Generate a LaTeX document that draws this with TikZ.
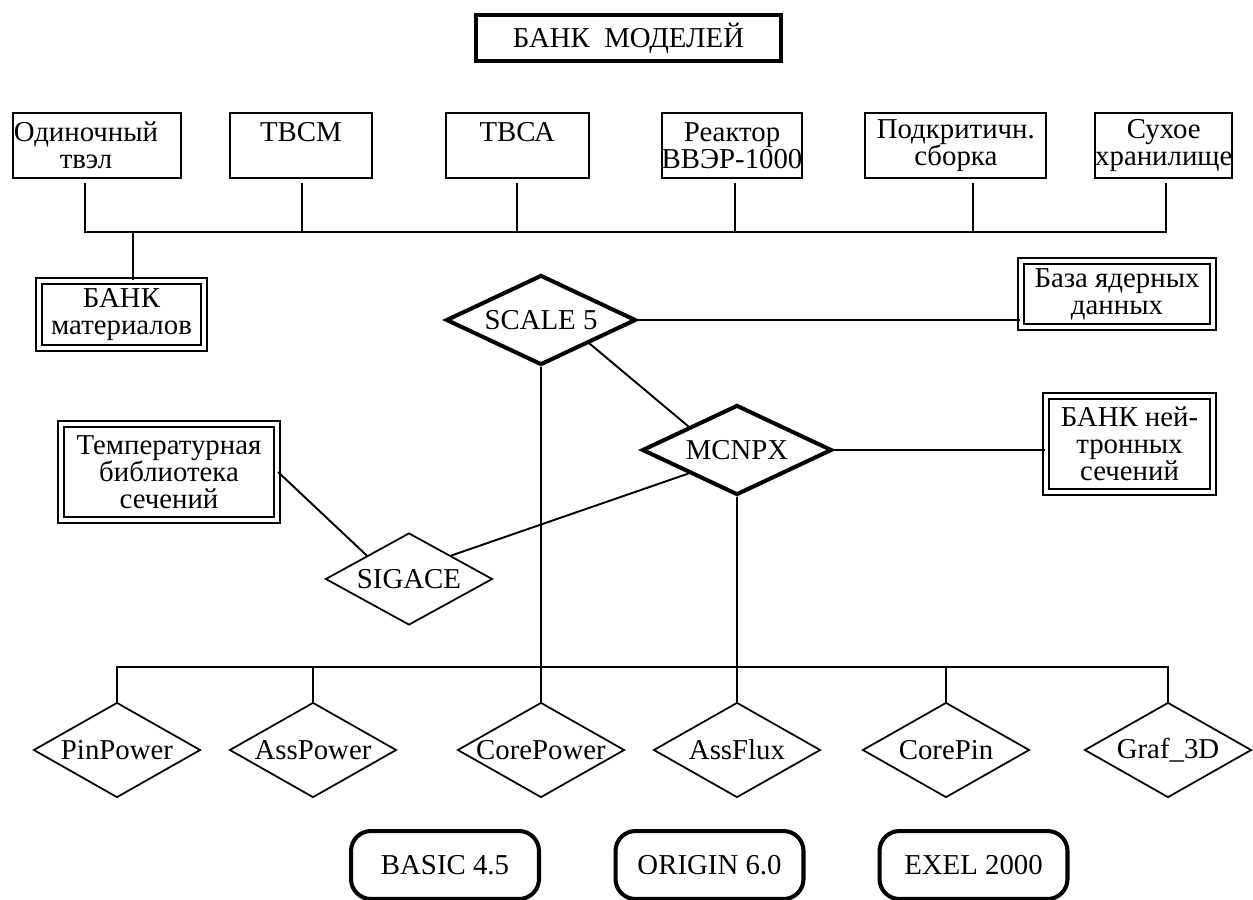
\documentclass[tikz,border=0pt]{standalone}
\usepackage{fontspec}
\setmainfont{Liberation Serif}
\usetikzlibrary{shapes.geometric,positioning}
\tikzset{%
  textFont/.style={%
    font=\fontsize{16.4}{15.4}\selectfont
  },
  titleBox/.style={%
    rectangle,
    draw,
    line width=2.3pt,
    minimum width=6.10cm,
    minimum height=0.92cm,
    textFont
  },
  modelBox/.style={%
    rectangle,
    draw,
    line width=1.1pt,
    minimum height=1.30cm,
    inner sep=0pt,
    align=center,
    textFont
  },
  bankBox/.style={%
    rectangle,
    draw,
    double,
    line width=1.2pt,
    double distance=2.2pt,
    inner sep=0pt,
    align=center,
    textFont
  },
  codeDiamond/.style={%
    diamond,
    draw,
    line width=2.3pt,
    inner sep=0pt,
    minimum width=3.8cm,
    minimum height=1.8cm,
    textFont
  },
  toolDiamond/.style={%
    diamond,
    draw,
    line width=1pt,
    inner sep=0pt,
    minimum width=3.34cm,
    minimum height=1.9cm,
    textFont
  },
  progBox/.style={%
    rectangle,
    rounded corners=0.4cm,
    draw,
    line width=2.3pt,
    minimum width=3.76cm,
    minimum height=1.36cm,
    textFont
  },
  linkLine/.style={%
    line width=1.1pt
  }
}
\newcommand{\dtext}[1]{\makebox[0pt]{#1}}

\begin{document}
\begin{tikzpicture}[x=0.02cm, y=-0.02cm]
  \useasboundingbox[fill=white] (0,0) rectangle (1253,899);

  % title
  \node[titleBox] (bank) at (628.5,38) {БАНК\ \ МОДЕЛЕЙ};

  % models
  \node[modelBox, minimum width=3.36cm] (tvel) at (97,145.5) {Одиночный\hspace*{0.44cm}\\твэл\hspace*{0.44cm}};
  \node[modelBox, minimum width=2.84cm, right=0.94cm of tvel] (tvsm) {ТВСМ\\\mbox{}};
  \node[modelBox, minimum width=2.86cm, right=1.44cm of tvsm] (tvsa) {ТВСА\\\mbox{}};
  \node[modelBox, minimum width=2.78cm, right=1.42cm of tvsa] (reactor) {Реактор\\ВВЭР-1000};
  \node[modelBox, minimum width=3.62cm, right=1.22cm of reactor] (subcrit) {Подкритичн.\\сборка};
  \node[modelBox, minimum width=2.56cm, right=0.94cm of subcrit] (storage) {Сухое\\хранилище};

  \coordinate (jTvel) at (85,183);
  \coordinate (jTvsm) at (302,183);
  \coordinate (jTvsa) at (517,183);
  \coordinate (jReactor) at (735,183);
  \coordinate (jSubcrit) at (973,183);
  \coordinate (jStorage) at (1166,183);
  \coordinate (jMat) at (133,232);

  \draw[linkLine] (jTvel) -- ++(0,49) -| (jStorage);
  \foreach \j in {jTvsm,jTvsa,jReactor,jSubcrit}
    \draw[linkLine] (\j) -- ++(0,49);

  % banks
  \node[bankBox, minimum width=3.30cm, minimum height=1.34cm] (mat) at (121.5,314.5) {БАНК\\материалов};
  \node[bankBox, minimum width=3.84cm, minimum height=1.32cm] (nuc) at (1117,294) {База ядерных\\данных};
  \node[bankBox, minimum width=4.32cm, minimum height=1.92cm] (temp) at (169,472) {Температурная\\библиотека\\сечений};
  \node[bankBox, minimum width=3.34cm, minimum height=1.92cm] (neut) at (1129.5,444) {БАНК ней-\\тронных\\сечений};

  \draw[linkLine] (jMat) -- (jMat |- mat.north);

  % codes
  \node[codeDiamond] (scale) at (541,320) {\dtext{SCALE 5}};
  \node[codeDiamond] (mcnpx) at (737,450) {\dtext{MCNPX}};
  \node[toolDiamond, minimum height=1.84cm] (sigace) at (409,579) {\dtext{SIGACE}};

  \draw[linkLine] (scale.east) -- (scale.east -| nuc.west);
  \draw[linkLine] (scale.south east) -- (mcnpx.north west);
  \draw[linkLine] (mcnpx.east) -- (mcnpx.east -| neut.west);
  \draw[linkLine] (mcnpx.south west) -- (sigace.north east);
  \draw[linkLine] (temp.east) -- (sigace.north west);

  % processing
  \node[toolDiamond] (pinPower) at (117,750) {\dtext{PinPower}};
  \node[toolDiamond] (assPower) at (313,750) {\dtext{AssPower}};
  \node[toolDiamond] (corePower) at (541,750) {\dtext{CorePower}};
  \node[toolDiamond] (assFlux) at (737,750) {\dtext{AssFlux}};
  \node[toolDiamond] (corePin) at (946,750) {\dtext{CorePin}};
  \node[toolDiamond] (graf) at (1168,750) {\dtext{Graf\_3D}};

  \draw[linkLine] (pinPower.north) -- ++(0,-35) -| (graf.north);
  \foreach \d in {assPower,corePin}
    \draw[linkLine] (\d.north) -- ++(0,-35);
  \draw[linkLine] (scale.south) -- (corePower.north);
  \draw[linkLine] (mcnpx.south) -- (assFlux.north);

  % programs
  \node[progBox] (basic) at (445,865) {BASIC 4.5};
  \node[progBox] (origin) at (709.5,865) {ORIGIN 6.0};
  \node[progBox] (exel) at (973.5,865) {EXEL 2000};
\end{tikzpicture}
\end{document}
